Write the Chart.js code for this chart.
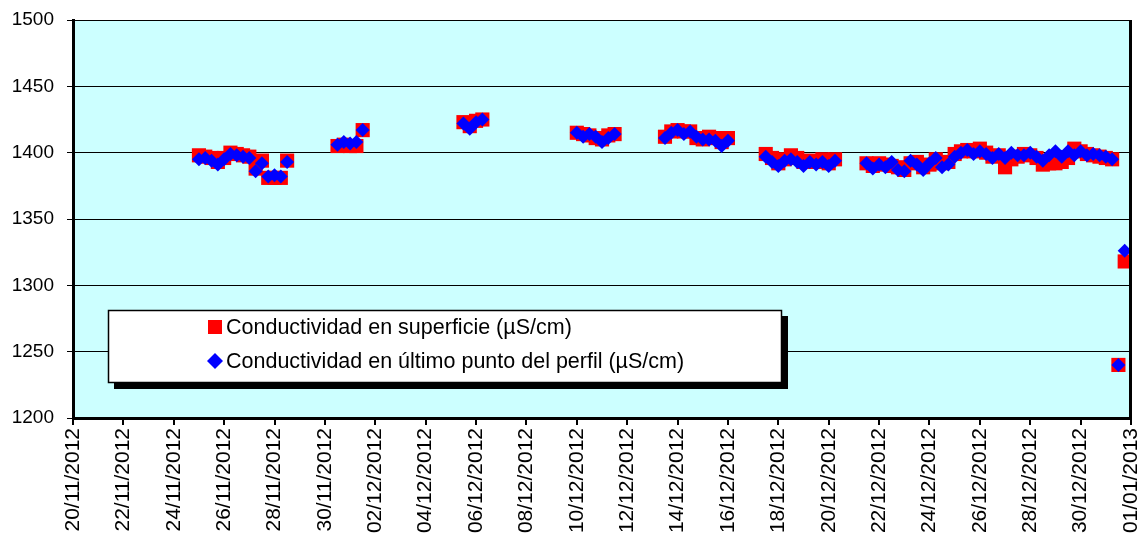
<!DOCTYPE html>
<html>
<head>
<meta charset="utf-8">
<script src="https://cdn.jsdelivr.net/npm/chart.js@4/dist/chart.umd.min.js"></script>
<style>
  html, body { margin: 0; padding: 0; background: #fff; }
  #wrap { width: 1142px; height: 545px; }
</style>
</head>
<body>
<div id="wrap"><canvas id="cond" width="1142" height="545"></canvas></div>
<script>
// days counted from 20/11/2012 00:00, one reading every 6 hours
const startDate = Date.UTC(2012, 10, 20);
const dayOffsets = [
  5, 5.25, 5.5, 5.75, 6, 6.25, 6.5, 6.75, 7, 7.25, 7.5, 7.75, 8, 8.25, 8.5,
  10.5, 10.75, 11, 11.25, 11.5,
  15.5, 15.75, 16, 16.25,
  20, 20.25, 20.5, 20.75, 21, 21.25, 21.5,
  23.5, 23.75, 24, 24.25, 24.5, 24.75, 25, 25.25, 25.5, 25.75, 26,
  27.5, 27.75, 28, 28.25, 28.5, 28.75, 29, 29.25, 29.5, 29.75, 30, 30.25,
  31.5, 31.75, 32, 32.25, 32.5, 32.75, 33, 33.25, 33.5, 33.75,
  34, 34.25, 34.5, 34.75, 35, 35.25, 35.5, 35.75, 36, 36.25,
  36.5, 36.75, 37, 37.25, 37.5, 37.75, 38, 38.25, 38.5, 38.75,
  39, 39.25, 39.5, 39.75, 40, 40.25, 40.5, 40.75, 41, 41.25,
  41.5, 41.75
];
const surface = [
  1398, 1397, 1396, 1393, 1396, 1400, 1399, 1398, 1397, 1388, 1394, 1381, 1381, 1381, 1394,
  1405, 1406, 1405, 1405, 1417,
  1423, 1420, 1424, 1425,
  1415, 1414, 1413, 1411, 1410, 1413, 1414,
  1412, 1416, 1417, 1416, 1416, 1411, 1410, 1412, 1411, 1408, 1411,
  1399, 1396, 1392, 1395, 1398, 1396, 1393, 1394, 1393, 1395, 1392, 1395,
  1392, 1390, 1392, 1391, 1390, 1389, 1387, 1392, 1393, 1389,
  1391, 1395, 1392, 1393, 1399, 1401, 1402, 1401, 1403, 1400,
  1397, 1398, 1389, 1395, 1397, 1399, 1398, 1396, 1391, 1392,
  1392, 1393, 1396, 1403, 1401, 1399, 1398, 1397, 1396, 1395,
  1240, 1318
];
const lastPoint = [
  1395, 1396, 1394, 1391, 1395, 1399, 1398, 1397, 1396, 1386, 1392, 1382, 1383, 1382, 1393,
  1406, 1408, 1407, 1408, 1417,
  1422, 1418, 1423, 1425,
  1415, 1412, 1414, 1412, 1408, 1411, 1414,
  1411, 1415, 1417, 1414, 1416, 1412, 1410, 1410, 1409, 1405, 1409,
  1397, 1393, 1390, 1394, 1395, 1393, 1390, 1393, 1391, 1393, 1390, 1394,
  1392, 1388, 1391, 1389, 1393, 1387, 1386, 1394, 1391, 1387,
  1392, 1396, 1389, 1391, 1397, 1400, 1402, 1399, 1401, 1399,
  1396, 1399, 1396, 1400, 1398, 1398, 1400, 1397, 1394, 1398,
  1401, 1397, 1401, 1398, 1401, 1398, 1399, 1398, 1397, 1395,
  1240, 1326
];
const yTicks = [1200, 1250, 1300, 1350, 1400, 1450, 1500];
const xTickDays = [0, 2, 4, 6, 8, 10, 12, 14, 16, 18, 20, 22, 24, 26, 28, 30, 32, 34, 36, 38, 40, 42];

const pts = vals => dayOffsets.map((d, i) => ({ x: d, y: vals[i] }));

function dayLabel(v) {
  const d = new Date(startDate + v * 86400000);
  const p = n => String(n).padStart(2, '0');
  return p(d.getUTCDate()) + '/' + p(d.getUTCMonth() + 1) + '/' + d.getUTCFullYear();
}

const FONT = "'Liberation Sans', Arial, sans-serif";

// cyan plot background and the right-hand frame line
const plotFrame = {
  id: 'plotFrame',
  beforeDatasetsDraw(chart) {
    const a = chart.chartArea, ctx = chart.ctx;
    ctx.save();
    ctx.globalCompositeOperation = 'destination-over';
    ctx.fillStyle = '#CCFFFF';
    ctx.fillRect(a.left, a.top, a.right - a.left, a.bottom - a.top);
    ctx.restore();
  },
  afterDraw(chart) {
    const a = chart.chartArea, ctx = chart.ctx;
    ctx.save();
    ctx.strokeStyle = '#000';
    ctx.lineWidth = 3;
    ctx.beginPath();
    ctx.moveTo(a.right - 0.5, a.top);
    ctx.lineTo(a.right - 0.5, a.bottom + 1);
    ctx.stroke();
    ctx.restore();
  }
};

// boxed legend with drop shadow sitting inside the plot
const boxLegend = {
  id: 'boxLegend',
  afterDraw(chart) {
    const ctx = chart.ctx;
    const xs = chart.scales.x, ys = chart.scales.y;
    const left = Math.round(xs.getPixelForValue(1.39));
    const right = Math.round(xs.getPixelForValue(28.13));
    const top = Math.round(ys.getPixelForValue(1281.5));
    const bottom = Math.round(ys.getPixelForValue(1226.5));
    ctx.save();
    ctx.fillStyle = '#000';
    ctx.fillRect(left + 6, top + 6, right - left, bottom - top);
    ctx.fillStyle = '#fff';
    ctx.fillRect(left, top, right - left, bottom - top);
    ctx.strokeStyle = '#000';
    ctx.lineWidth = 1.5;
    ctx.strokeRect(left + 0.5, top + 0.5, right - left - 1, bottom - top - 1);
    ctx.font = '21.5px ' + FONT;
    ctx.textBaseline = 'middle';
    [0, 1].forEach((idx, r) => {
      const ds = chart.data.datasets[idx];
      const cy = top + 17 + r * 34;
      const cx = left + 107;
      ctx.fillStyle = ds.backgroundColor;
      if (ds.pointStyle === 'rect') {
        ctx.fillRect(cx - 7, cy - 7, 14, 14);
      } else {
        ctx.beginPath();
        ctx.moveTo(cx, cy - 8);
        ctx.lineTo(cx + 8, cy);
        ctx.lineTo(cx, cy + 8);
        ctx.lineTo(cx - 8, cy);
        ctx.closePath();
        ctx.fill();
      }
      ctx.fillStyle = '#000';
      ctx.fillText(ds.label, cx + 11, cy + 1);
    });
    ctx.restore();
  }
};

new Chart(document.getElementById('cond'), {
  type: 'scatter',
  data: {
    datasets: [
      {
        label: 'Conductividad en superficie (µS/cm)',
        data: pts(surface),
        pointStyle: 'rect',
        pointRadius: 10,
        pointHoverRadius: 10,
        borderWidth: 0,
        backgroundColor: '#FF0000',
        borderColor: '#FF0000',
        order: 1
      },
      {
        label: 'Conductividad en último punto del perfil (µS/cm)',
        data: pts(lastPoint),
        pointStyle: 'rectRot',
        pointRadius: 7,
        pointHoverRadius: 7,
        borderWidth: 0,
        backgroundColor: '#0000FF',
        borderColor: '#0000FF',
        order: 0
      }
    ]
  },
  options: {
    responsive: false,
    animation: false,
    layout: { padding: { top: 20, right: 11, left: 0, bottom: 0 } },
    plugins: {
      legend: { display: false },
      tooltip: { enabled: false }
    },
    scales: {
      x: {
        type: 'linear',
        min: 0,
        max: 42,
        afterBuildTicks(scale) {
          scale.ticks = xTickDays.map(v => ({ value: v }));
        },
        ticks: {
          callback: v => dayLabel(v),
          maxRotation: 90,
          minRotation: 90,
          autoSkip: false,
          color: '#000',
          padding: 3,
          font: { family: FONT, size: 21 }
        },
        grid: { drawOnChartArea: false, drawTicks: true, tickLength: 7, color: '#000', lineWidth: 2 },
        border: { color: '#000', width: 3 },
        afterFit(scale) {
          scale.height = 127;
          scale.paddingLeft = 0;
          scale.paddingRight = 0;
        }
      },
      y: {
        min: 1200,
        max: 1500,
        afterBuildTicks(scale) {
          scale.ticks = yTicks.map(v => ({ value: v }));
        },
        ticks: {
          callback: v => String(v),
          color: '#000',
          padding: 13,
          font: { family: FONT, size: 19 }
        },
        grid: { color: '#000', lineWidth: 1, tickLength: 6, drawTicks: true },
        border: { color: '#000', width: 3 },
        afterFit(scale) {
          scale.width = 73;
          scale.paddingTop = 0;
          scale.paddingBottom = 0;
        }
      }
    }
  },
  plugins: [plotFrame, boxLegend]
});
</script>
</body>
</html>
